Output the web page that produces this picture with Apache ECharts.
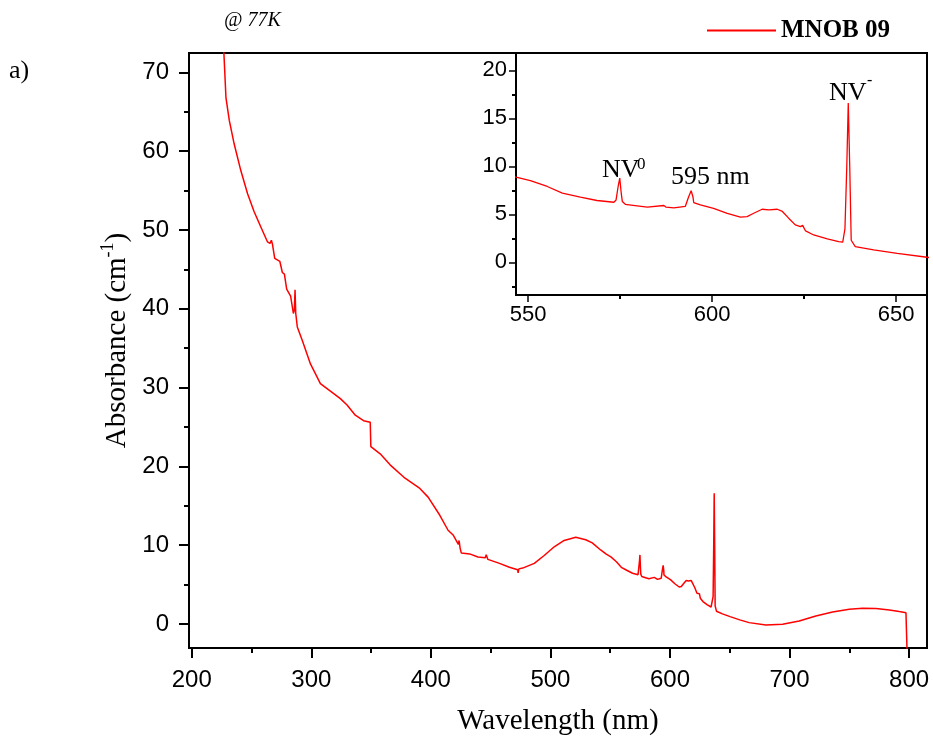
<!DOCTYPE html>
<html>
<head>
<meta charset="utf-8">
<script src="https://cdn.jsdelivr.net/npm/echarts@6/dist/echarts.min.js"></script>
<style>html,body{margin:0;padding:0;background:#fff}#chart{width:933px;height:742px}</style>
</head>
<body>
<div id="chart"></div>
<script>
// Wavelength (nm) and absorbance (cm^-1)
const wavelength = [224, 226.9, 228.6, 231.4, 235.5, 241.1, 246.7, 252.2, 257.7, 263.3, 265.5, 266.6, 267.5, 269.4, 273.7, 275.8, 277.5, 279.4, 282.7, 285.0, 285.8, 286.4, 287.0, 288.3, 292.4, 299.3, 307.6, 314.6, 324.3, 329.9, 336.8, 343.7, 349.3, 349.8, 357.6, 365.9, 378.4, 390.8, 397.7, 407.5, 414.4, 418.6, 423.0, 423.6, 424.5, 425.5, 432.4, 439.4, 445.5, 446.3, 447.7, 457.4, 465.7, 472.6, 473.0, 473.6, 476.8, 486.5, 494.8, 503.2, 511.5, 521.2, 529.5, 535.0, 542.0, 546.7, 550.6, 555.2, 559.3, 564.2, 568.7, 573.3, 573.9, 574.5, 574.9, 575.3, 575.6, 576.4, 579.6, 582.4, 586.9, 587.5, 589.6, 592.7, 593.6, 594.3, 594.8, 595.0, 596.8, 600.4, 604.1, 607.7, 609.5, 611.3, 613.6, 615.4, 617.7, 619.1, 620.8, 622.6, 624.0, 624.6, 625.4, 627.6, 631.3, 634.4, 635.5, 636.1, 636.6, 637.0, 637.4, 637.8, 638.9, 643.9, 650.3, 658.4, 666.2, 680.2, 694.2, 708.1, 722.0, 736.0, 750.0, 761.1, 772.3, 783.5, 791.8, 797.4, 798.6, 798.8];
const absorbance = [80, 72.4, 66.8, 63.9, 60.9, 57.5, 54.6, 52.3, 50.4, 48.5, 48.3, 48.7, 48.2, 46.4, 46.0, 44.6, 44.4, 42.5, 41.6, 39.4, 39.8, 42.4, 39.4, 37.7, 36.0, 33.0, 30.5, 29.7, 28.6, 27.8, 26.5, 25.8, 25.6, 22.5, 21.6, 20.2, 18.5, 17.2, 16.1, 13.8, 11.9, 11.3, 10.1, 10.6, 9.6, 9.0, 8.9, 8.5, 8.4, 8.8, 8.2, 7.7, 7.2, 6.9, 6.5, 7.0, 7.1, 7.7, 8.7, 9.8, 10.6, 11.0, 10.7, 10.3, 9.4, 8.87, 8.52, 7.90, 7.20, 6.79, 6.44, 6.26, 6.5, 8.0, 8.77, 7.2, 6.33, 6.04, 5.88, 5.74, 5.92, 5.74, 5.67, 5.82, 6.8, 7.45, 6.8, 6.23, 5.98, 5.63, 5.11, 4.70, 4.77, 5.11, 5.53, 5.46, 5.53, 5.3, 4.6, 3.9, 3.72, 3.85, 3.27, 2.85, 2.44, 2.16, 2.1, 3.5, 10, 16.6, 10, 2.3, 1.63, 1.29, 0.94, 0.53, 0.18, -0.13, -0.04, 0.38, 1.03, 1.53, 1.88, 2.00, 1.96, 1.79, 1.58, 1.44, 1.40, -6];

// Tick values
const mainXTicks = [200, 300, 400, 500, 600, 700, 800];
const mainXMinor = [250, 350, 450, 550, 650, 750];
const mainYTicks = [0, 10, 20, 30, 40, 50, 60, 70];
const mainYMinor = [5, 15, 25, 35, 45, 55, 65];
const insetXTicks = [550, 600, 650];
const insetXMinor = [575, 625];
const insetYTicks = [0, 5, 10, 15, 20];
const insetYMinor = [-2.5, 2.5, 7.5, 12.5, 17.5];

const seriesName = 'MNOB 09';
const data = wavelength.map((w, i) => [w, absorbance[i]]);

const SANS = 'Liberation Sans';
const SERIF = 'Liberation Serif';
const RED = '#ff0000';

function majorAxis(opts) {
  return Object.assign({
    type: 'value',
    axisLine: {show: true, onZero: false, lineStyle: {color: '#000', width: 2}},
    splitLine: {show: false},
  }, opts);
}
function minorAxis(opts, ticks, len) {
  return Object.assign({
    type: 'value',
    axisLine: {show: false, onZero: false},
    axisLabel: {show: false},
    splitLine: {show: false},
    axisTick: {show: true, inside: false, length: len, customValues: ticks, lineStyle: {color: '#000', width: 2}},
  }, opts);
}
function txt(x, y, text, font) {
  return {type: 'text', x: x, y: y, z: 10, style: {text: text, font: font, fill: '#000', verticalAlign: 'top'}};
}

const chart = echarts.init(document.getElementById('chart'), null, {renderer: 'canvas'});
chart.setOption({
  animation: false,
  backgroundColor: '#fff',
  legend: {
    data: [seriesName],
    left: 702, top: 13,
    itemWidth: 69, itemHeight: 2, itemGap: 5,
    icon: 'rect',
    textStyle: {fontFamily: SERIF, fontWeight: 'bold', fontSize: 25, color: '#000'}
  },
  grid: [
    {left: 189, right: 6, top: 53, bottom: 94, show: true, borderColor: '#000', borderWidth: 2, backgroundColor: 'transparent'},
    {left: 516, right: 6, top: 53, bottom: 447, show: true, borderColor: '#000', borderWidth: 2, backgroundColor: '#fff'}
  ],
  xAxis: [
    majorAxis({
      gridIndex: 0, min: 197.7, max: 815,
      axisTick: {show: true, inside: false, length: 10, customValues: mainXTicks, lineStyle: {color: '#000', width: 2}},
      axisLabel: {customValues: mainXTicks, margin: 20, fontSize: 24, fontFamily: SANS, color: '#000'},
      name: 'Wavelength (nm)', nameLocation: 'middle', nameGap: 59,
      nameTextStyle: {fontFamily: SERIF, fontSize: 29, color: '#000'}
    }),
    minorAxis({gridIndex: 0, min: 197.7, max: 815, position: 'bottom'}, mainXMinor, 5),
    majorAxis({
      gridIndex: 1, min: 546.7, max: 658.4,
      axisTick: {show: true, inside: false, length: 7, customValues: insetXTicks, lineStyle: {color: '#000', width: 1.5}},
      axisLabel: {customValues: insetXTicks, margin: 9, fontSize: 22, fontFamily: SANS, color: '#000'}
    }),
    minorAxis({gridIndex: 1, min: 546.7, max: 658.4, position: 'bottom'}, insetXMinor, 4)
  ],
  yAxis: [
    majorAxis({
      gridIndex: 0, min: -3.04, max: 72.45,
      axisTick: {show: true, inside: false, length: 10, customValues: mainYTicks, lineStyle: {color: '#000', width: 2}},
      axisLabel: {customValues: mainYTicks, margin: 20, fontSize: 24, fontFamily: SANS, color: '#000'},
      name: '{a|Absorbance (cm}{s|-1}{a|)}', nameLocation: 'middle', nameGap: 56, nameRotate: 90,
      nameTextStyle: {
        color: '#000',
        padding: [0, 0, 0, 20],
        rich: {
          a: {fontFamily: SERIF, fontSize: 29, color: '#000', lineHeight: 32, verticalAlign: 'bottom'},
          s: {fontFamily: SERIF, fontSize: 18, color: '#000', lineHeight: 32, verticalAlign: 'top'}
        }
      }
    }),
    minorAxis({gridIndex: 0, min: -3.04, max: 72.45, position: 'left'}, mainYMinor, 5),
    majorAxis({
      gridIndex: 1, min: -3.4, max: 21.8,
      axisTick: {show: true, inside: false, length: 7, customValues: insetYTicks, lineStyle: {color: '#000', width: 1.5}},
      axisLabel: {customValues: insetYTicks, margin: 9, fontSize: 22, fontFamily: SANS, color: '#000'}
    }),
    minorAxis({gridIndex: 1, min: -3.4, max: 21.8, position: 'left'}, insetYMinor, 4)
  ],
  series: [
    {
      name: seriesName, type: 'line', xAxisIndex: 0, yAxisIndex: 0,
      data: data, symbol: 'none', showSymbol: false, clip: true,
      lineStyle: {color: RED, width: 1.5}, itemStyle: {color: RED}, z: 3
    },
    {
      name: 'inset', type: 'line', xAxisIndex: 2, yAxisIndex: 2,
      data: data, symbol: 'none', showSymbol: false, clip: true,
      lineStyle: {color: RED, width: 1.3}, itemStyle: {color: RED}, z: 3
    }
  ],
  graphic: [
    txt(9, 58, 'a)', '26px "Liberation Serif"'),
    txt(224, 11, '@ 77K', 'italic 20px "Liberation Serif"'),
    txt(602, 157, 'NV', '26px "Liberation Serif"'),
    txt(637, 156, '0', '17px "Liberation Serif"'),
    txt(671, 164, '595 nm', '26px "Liberation Serif"'),
    txt(829, 80, 'NV', '26px "Liberation Serif"'),
    txt(867, 73, '-', '16px "Liberation Serif"')
  ]
});
</script>
</body>
</html>
